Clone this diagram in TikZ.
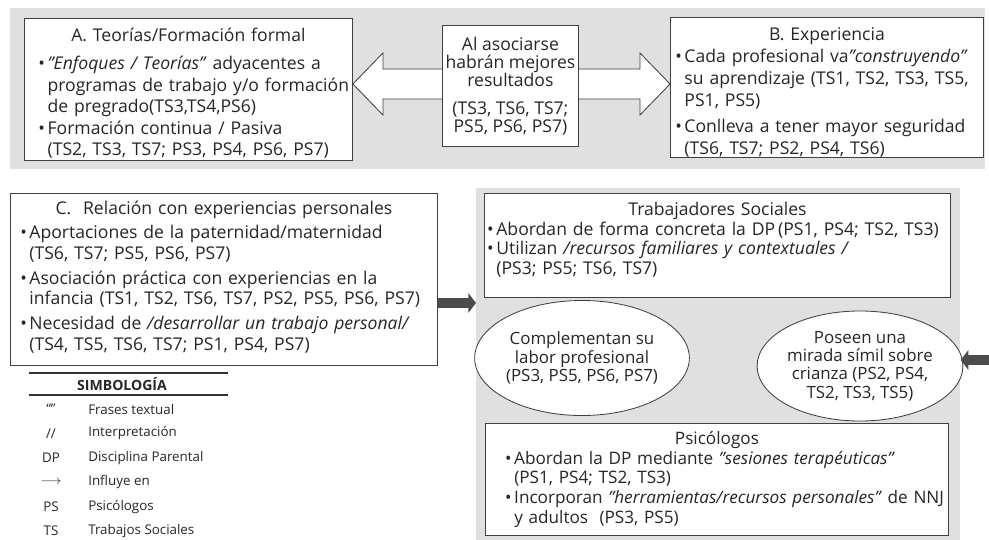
\documentclass[tikz,border=0pt]{standalone}
\usepackage{fontspec}
\setmainfont{Open Sans}
\usetikzlibrary{positioning,calc,shapes.geometric,arrows.meta}

\newlength\bulw
\setlength\bulw{6.5pt}
\newcommand\bitem[1]{\par\noindent\hangindent=\bulw\hangafter=1\rightskip=-4cm plus 1fil\makebox[\bulw][l]{\textbullet}#1\par}

\begin{document}
\begin{tikzpicture}[x=0.025cm,y=-0.025cm,
	font=\fontsize{12.5}{15.3}\selectfont,
	band/.style={fill=black!12,inner sep=0pt,anchor=north west},
	box/.style={draw=black!75,line width=0.6pt,fill=white,inner sep=0pt,anchor=north west,align=left,text=black!85},
	oval/.style={ellipse,draw=black!75,line width=0.6pt,fill=white,inner sep=0pt,align=center,text=black!85,font=\fontsize{12}{13}\selectfont},
	heavy/.style={-{Triangle[length=5.5pt,width=14pt]},line width=7pt,draw=black!70},
	key/.style={font=\fontsize{9.5}{10}\selectfont,text=black!85,inner sep=0pt}]
	\useasboundingbox (0,0) rectangle (989,540);
	\node [band,minimum width=24.35cm,minimum height=4.025cm] at (10,8) (top) {};
	\node [band,minimum width=12.1cm,minimum height=8.8cm] at (476,188) (prof) {};

	\node [box,minimum width=8.2cm,minimum height=3.55cm,text width=8.2cm] at (24,18) (A) {%
		{\centering\rule{0pt}{14.6pt}A. Teorías/Formación formal\par}\vspace{5pt}
		\leftskip=10pt
		\bitem{\textit{"Enfoques / Teorías"} adyacentes a\newline programas de trabajo y/o formación\newline de pregrado(TS3,TS4,PS6)}
		\bitem{Formación continua / Pasiva\newline (TS2, TS3, TS7; PS3, PS4, PS6, PS7)}};
	\node [box,minimum width=7.825cm,minimum height=3.375cm,text width=7.825cm,font=\fontsize{12.5}{15.6}\selectfont] at (670,17) (B) {%
		{\centering\rule{0pt}{16.5pt}B. Experiencia\par}
		\leftskip=3.5pt
		\bitem{Cada profesional va\textit{"construyendo"}\newline su aprendizaje (TS1, TS2, TS3, TS5,\newline PS1, PS5)}\vspace{3pt}
		\bitem{Conlleva a tener mayor seguridad\newline (TS6, TS7; PS2, PS4, TS6)}};

	\coordinate (Lt) at (A.east |- 0,84);
	\coordinate (Rt) at (B.west |- 0,84);
	\draw [draw=black!75,line width=0.6pt,fill=white] (Lt) -- ++(30,-31) -- ++(0,16) -- ($(Rt)+(-30,-15)$) -- ++(0,-16) -- (Rt) -- ++(-30,31) -- ++(0,-16) -- ($(Lt)+(30,15)$) -- ++(0,16) -- cycle;
	\node [box,align=center,minimum width=3.4cm,minimum height=3.025cm,font=\fontsize{12.5}{12.8}\selectfont] at (442,25) (M) {Al asociarse\\habrán mejores\\resultados\\[7pt](TS3, TS6, TS7;\\PS5, PS6, PS7)};

	\node [box,minimum width=10.675cm,minimum height=4.3cm,text width=10.675cm,font=\fontsize{12.5}{14.6}\selectfont] at (10,193) (C) {%
		{\centering C.\ \ Relación con experiencias personales\par}\vspace{2.5pt}
		\leftskip=7pt
		\bitem{Aportaciones de la paternidad/maternidad\newline (TS6, TS7; PS5, PS6, PS7)}\vspace{3.2pt}
		\bitem{Asociación práctica con experiencias en la\newline infancia (TS1, TS2, TS6, TS7, PS2, PS5, PS6, PS7)}\vspace{3.2pt}
		\bitem{Necesidad de \textit{/desarrollar un trabajo personal/}\newline (TS4, TS5, TS6, TS7; PS1, PS4, PS7)}\vspace*{3pt}};

	\node [box,minimum width=11.65cm,minimum height=2.6cm,text width=11.65cm,font=\fontsize{12.5}{13.9}\selectfont] at (484,193) (TS) {%
		{\centering Trabajadores Sociales\par}
		\leftskip=2pt
		\bitem{Abordan de forma concreta la DP\,(PS1, PS4; TS2, TS3)}
		\bitem{Utilizan \textit{/recursos familiares y contextuales /}\newline (PS3; PS5; TS6, TS7)}\vspace*{8pt}};
	\node [oval,minimum width=4.45cm,minimum height=2.875cm] at (582,358) (comp) {Complementan su\\labor profesional\\(PS3, PS5, PS6, PS7)};
	\node [oval,minimum width=4.25cm,minimum height=2.75cm] at (860,366) (mira) {Poseen una\\mirada símil sobre\\crianza (PS2, PS4,\\TS2, TS3, TS5)};
	\node [box,minimum width=11.575cm,minimum height=2.8cm,text width=11.575cm,font=\fontsize{12.2}{13.9}\selectfont] at (485,423) (PS) {%
		{\centering Psicólogos\par}
		\leftskip=14pt
		\bitem{Abordan la DP mediante \textit{"sesiones terapéuticas"}\newline (PS1, PS4; TS2, TS3)}
		\bitem{Incorporan \textit{"herramientas/recursos personales"} de NNJ\newline y adultos\ \ (PS3, PS5)}};

	\draw [heavy] (C.east |- 0,303) -- (prof.west |- 0,303);
	\coordinate (tail) at (989,360);
	\draw [heavy] (tail) -- (prof.east |- tail);

	\draw [line width=0.8pt,draw=black!80] (29,373) -- (228,373);
	\draw [line width=0.8pt,draw=black!80] (29,395) -- (228,395);
	\node [key,font=\fontsize{10}{11}\selectfont\bfseries] at (122,384) (simb) {SIMBOLOGÍA};
	\foreach \s/\t [count=\i] in {“”/Frases textual,{//}/Interpretación,DP/Disciplina Parental,{$\longrightarrow$}/Influye en,PS/Psicólogos,TS/Trabajos Sociales}{
		\node [key] at (51,{384.6+24.4*\i}) (sym\i) {\s};
		\node [key,anchor=west] at (88,{384.6+24.4*\i}) (def\i) {\t};
	}
\end{tikzpicture}
\end{document}
